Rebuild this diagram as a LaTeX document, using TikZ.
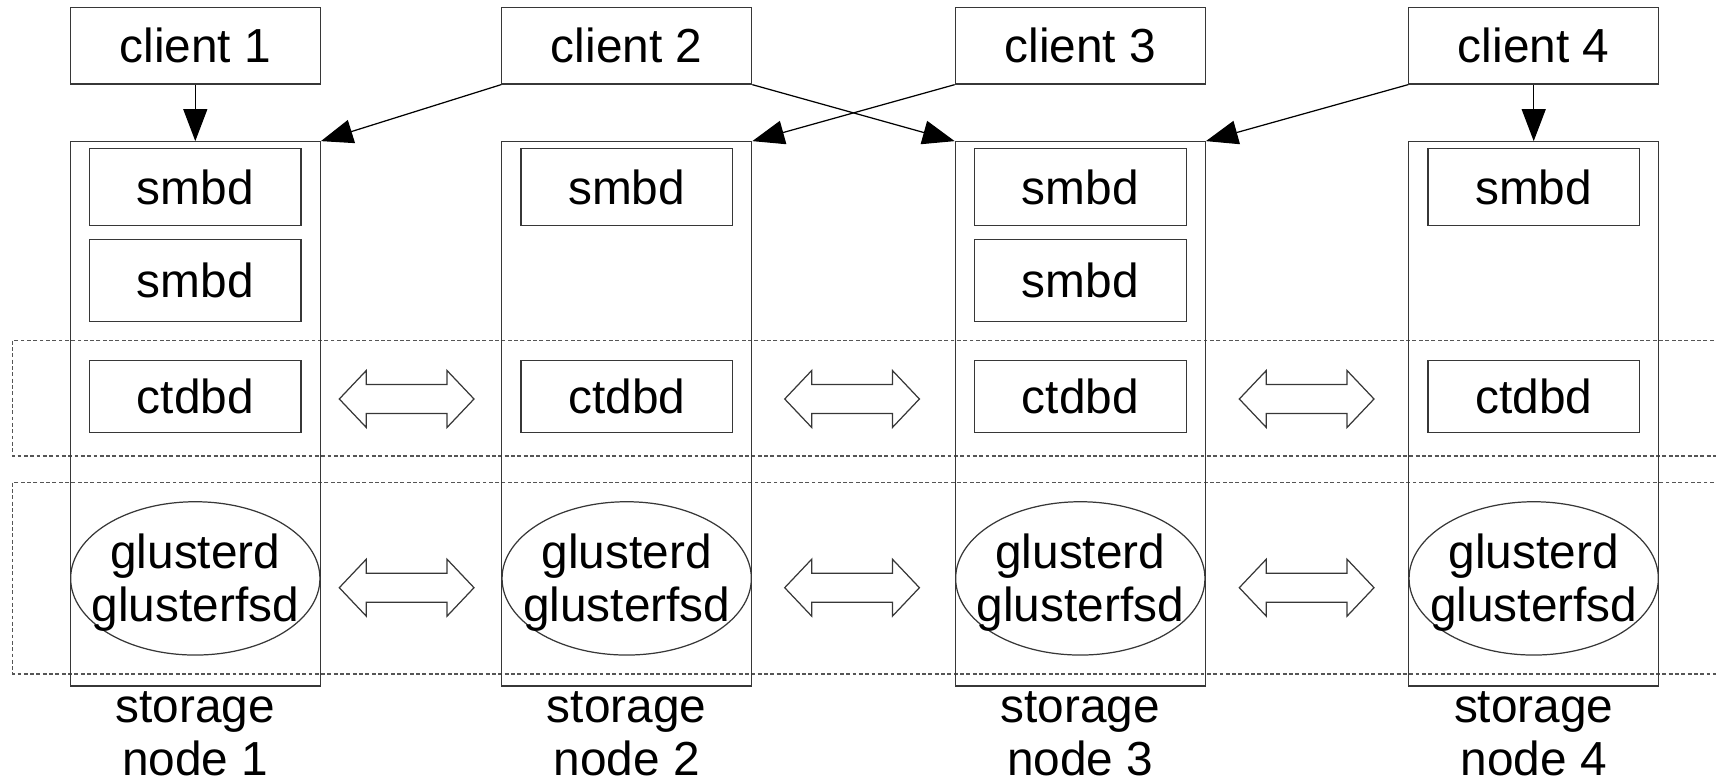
\documentclass[tikz,border=0pt]{standalone}
\usepackage{fontspec}
\setmainfont{Liberation Sans}
\usetikzlibrary{arrows.meta,positioning,shapes.geometric}
\definecolor{lineGray}{RGB}{55,55,55}
\definecolor{dashGray}{RGB}{85,85,85}

\begin{document}
\begin{tikzpicture}[x=0.1mm,y=-0.1mm,
    font=\fontsize{13.6}{15}\selectfont,
    box/.style={draw=lineGray, line width=0.35pt, rectangle, inner sep=0pt},
    clientbox/.style={box, minimum width=25mm, minimum height=7.67mm},
    storagebox/.style={box, minimum width=25mm, minimum height=54.43mm},
    procbox/.style={box, minimum width=21.16mm},
    glusterbox/.style={draw=lineGray, line width=0.35pt, ellipse, inner sep=0pt,
        minimum width=24.93mm, minimum height=15.33mm},
    layer/.style={draw=dashGray, line width=0.35pt, dash pattern=on 1.1pt off 0.7pt},
    link/.style={draw=lineGray, line width=0.35pt},
    conn/.style={black, line width=0.35pt, -{Triangle[length=3.2mm,width=2.4mm]}}
]

    \clip (0,0) rectangle (1716,782);

    % dashed layers
    \draw[layer] (12.7,340.7) rectangle (1760,456);
    \draw[layer] (12.7,482.7) rectangle (1760,674);

    % clients and storage nodes
    \foreach \i/\x in {1/195.3, 2/626.7, 3/1080.3, 4/1533.7} {
        \node[clientbox] (client\i) at (\x,45.7) {client \i};
        \node[storagebox] (node\i) at (\x,413.9) {};
        \node[procbox, minimum height=7.66mm] (smbd\i) at (\x,187) {smbd};
        \node[procbox, minimum height=7.2mm] (ctdb\i) at (\x,396.7) {ctdbd};
        \node[glusterbox, label={[align=center, inner sep=0pt, yshift=-0.45mm]center:glusterd\\glusterfsd}]
            (gluster\i) at (\x,578.4) {};
        \node[align=center, inner sep=0pt] (label\i) at (\x,734) {storage\\node \i};
    }
    \foreach \i/\x in {1/195.3, 3/1080.3}
        \node[procbox, minimum height=8.24mm] (smbdb\i) at (\x,280.5) {smbd};

    % links between nodes
    \foreach \xa in {339.3, 784.7, 1239.3} {
        \foreach \y in {399, 587.7} {
            \draw[link] (\xa,\y) -- ++(27,-28.5) -- ++(0,14) -- ++(80.7,0)
                -- ++(0,-14) -- ++(27,28.5) -- ++(-27,28.5) -- ++(0,-14)
                -- ++(-80.7,0) -- ++(0,14) -- cycle;
        }
    }

    % client connections
    \draw[conn] (client1.south) -- (node1.north);
    \draw[conn] (client2.south west) -- (node1.north east);
    \draw[conn] (client2.south east) -- (node3.north west);
    \draw[conn] (client3.south west) -- (node2.north east);
    \draw[conn] (client4.south west) -- (node3.north east);
    \draw[conn] (client4.south) -- (node4.north);

\end{tikzpicture}
\end{document}
